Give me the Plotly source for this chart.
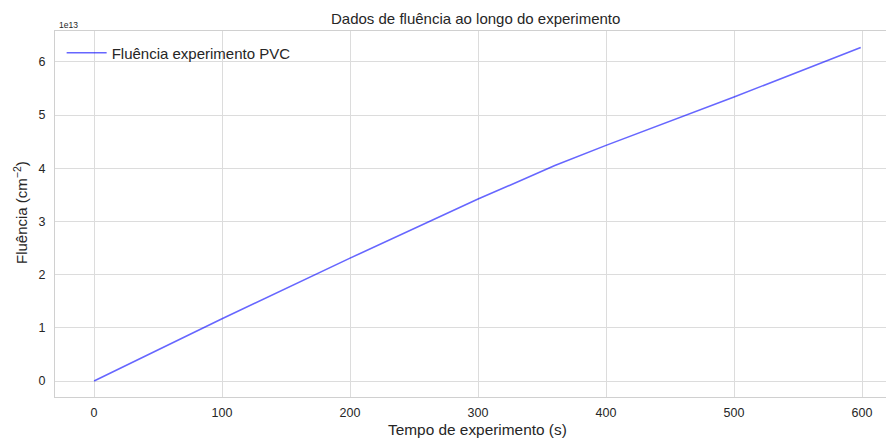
import plotly.graph_objects as go

tempo = [0, 100, 200, 300, 360, 400, 500, 599]
fluencia = [0.0, 1.17e13, 2.31e13, 3.42e13, 4.05e13, 4.43e13, 5.34e13, 6.27e13]
x_ticks = [0, 100, 200, 300, 400, 500, 600]
y_ticks = [0, 1e13, 2e13, 3e13, 4e13, 5e13, 6e13]
y_ticklabels = ["0", "1", "2", "3", "4", "5", "6"]

W, H = 886, 439
L, R, T, B = 55, 0, 31, 42

fig = go.Figure()
fig.add_trace(go.Scatter(
    x=tempo, y=fluencia, mode="lines",
    line=dict(color="rgba(0,0,255,0.6)", width=1.6),
    name="Fluência experimento PVC",
))

font = "Liberation Sans, Arial, Helvetica, sans-serif"
fig.update_layout(
    width=W, height=H,
    margin=dict(l=L, r=R, t=T, b=B, autoexpand=False),
    paper_bgcolor="white", plot_bgcolor="white",
    font=dict(family=font, color="#262626", size=12),
    showlegend=True,
    legend=dict(x=0.008, y=0.985, xanchor="left", yanchor="top",
                bgcolor="rgba(0,0,0,0)", font=dict(size=15, color="#262626"),
                itemwidth=40),
    xaxis=dict(range=[-30.5, 618.75], tickvals=x_ticks, automargin=False,
               showgrid=True, gridcolor="#dcdcdc", gridwidth=1,
               zeroline=False, showline=True, linecolor="#d0d0d0", mirror=True,
               ticks="", ticklabelstandoff=4, tickfont=dict(size=12.5)),
    yaxis=dict(range=[-0.3e13, 6.58e13], tickvals=y_ticks, ticktext=y_ticklabels,
               automargin=False,
               showgrid=True, gridcolor="#dcdcdc", gridwidth=1,
               zeroline=False, showline=True, linecolor="#d0d0d0", mirror=True,
               ticks="", ticklabelstandoff=6, tickfont=dict(size=12.5)),
)

pw = W - L - R
def px_to_paper_x(px):
    return (px - L) / pw
ph = H - T - B
def px_to_paper_y(py):
    return (H - B - py) / ph

fig.add_annotation(text="Dados de fluência ao longo do experimento",
                   x=px_to_paper_x(476), y=px_to_paper_y(18), xref="paper", yref="paper",
                   showarrow=False, font=dict(size=15, color="#262626"),
                   xanchor="center", yanchor="middle")
fig.add_annotation(text="Tempo de experimento (s)",
                   x=px_to_paper_x(477.5), y=px_to_paper_y(429), xref="paper", yref="paper",
                   showarrow=False, font=dict(size=15.4, color="#262626"),
                   xanchor="center", yanchor="middle")
fig.add_annotation(text="Fluência (cm<sup>−2</sup>)",
                   x=px_to_paper_x(20), y=px_to_paper_y(213), xref="paper", yref="paper",
                   showarrow=False, font=dict(size=15, color="#262626"), textangle=-90,
                   xanchor="center", yanchor="middle")
fig.add_annotation(text="1e13",
                   x=px_to_paper_x(57), y=px_to_paper_y(25), xref="paper", yref="paper",
                   showarrow=False, font=dict(size=8.5, color="#262626"),
                   xanchor="left", yanchor="middle")

fig.write_html("out.html", config={"displayModeBar": False},
               post_script="document.body.style.margin='0';document.body.style.overflow='hidden';")
